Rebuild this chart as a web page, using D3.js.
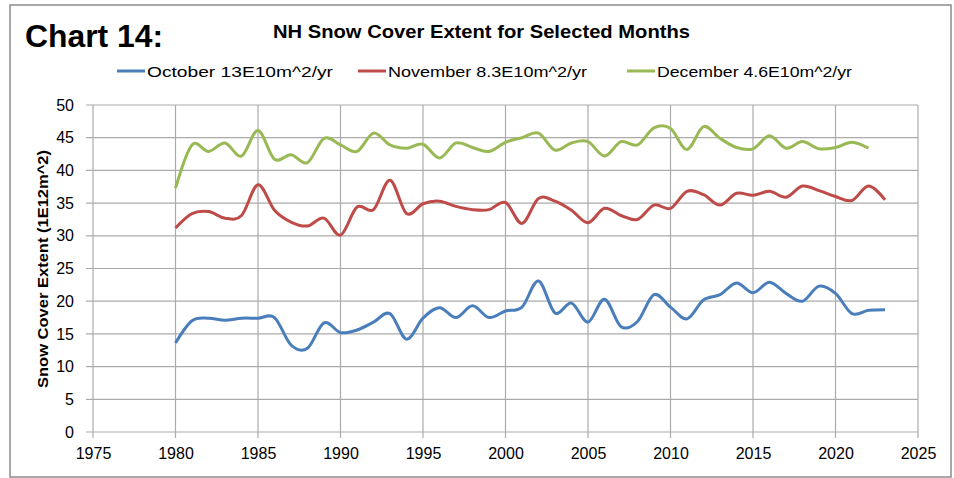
<!DOCTYPE html>
<html>
<head>
<meta charset="utf-8">
<script src="https://cdn.jsdelivr.net/npm/d3@7"></script>
<style>
  body { margin: 0; background: #fff; }
  svg { display: block; font-family: "Liberation Sans", Arial, sans-serif; }
</style>
</head>
<body>
<svg id="chart" width="954" height="478"></svg>
<script>
// years shown on the chart
var years = d3.range(1980, 2024);

// snow cover extent, 1E12 m^2
var october = [13.6, 17.0, 17.4, 17.1, 17.4, 17.4, 17.5, 13.3, 12.8, 16.7,
               15.2, 15.6, 16.8, 18.1, 14.2, 17.4, 19.0, 17.5, 19.3, 17.5,
               18.5, 19.1, 23.1, 18.2, 19.7, 16.8, 20.3, 16.1, 16.9, 21.0,
               19.1, 17.3, 20.2, 21.0, 22.8, 21.3, 22.9, 21.2, 20.0, 22.3,
               21.2, 18.1, 18.6, 18.7];
var november = [31.2, 33.4, 33.7, 32.7, 33.1, 37.8, 33.9, 32.1, 31.5, 32.7,
                30.1, 34.4, 34.0, 38.5, 33.4, 34.9, 35.3, 34.5, 34.0, 34.0,
                35.1, 31.9, 35.7, 35.3, 33.9, 32.0, 34.2, 33.1, 32.5, 34.7,
                34.2, 36.8, 36.3, 34.7, 36.5, 36.2, 36.8, 35.9, 37.6, 36.9,
                36.0, 35.4, 37.6, 35.5];
var december = [37.3, 43.9, 42.9, 44.2, 42.2, 46.1, 41.7, 42.4, 41.2, 44.9,
                43.9, 42.9, 45.7, 43.9, 43.4, 44.0, 41.9, 44.2, 43.5, 42.9,
                44.3, 45.0, 45.7, 43.1, 44.2, 44.4, 42.2, 44.4, 43.9, 46.5,
                46.4, 43.2, 46.7, 44.9, 43.5, 43.3, 45.3, 43.4, 44.4, 43.3,
                43.5, 44.3, 43.4];

var seriesNames = ["October 13E10m^2/yr", "November 8.3E10m^2/yr", "December 4.6E10m^2/yr"];
var seriesColors = ["#4a7ebb", "#be4b48", "#98b954"];
var seriesValues = [october, november, december];

var xTicks = d3.range(1975, 2026, 5);
var yTicks = d3.range(0, 51, 5);

var svg = d3.select("#chart");
var plotLeft = 93, plotRight = 918, plotTop = 105, plotBottom = 432;

var x = d3.scaleLinear().domain([1975, 2025]).range([plotLeft, plotRight]);
var y = d3.scaleLinear().domain([0, 50]).range([plotBottom, plotTop]);

//outer frame
svg.append("rect")
    .attr("x", 10).attr("y", 5)
    .attr("width", 941).attr("height", 472)
    .attr("fill", "#fff")
    .attr("stroke", "#8c8c8c")
    .attr("stroke-width", 1.5);

svg.append("text")
    .attr("x", 25).attr("y", 47)
    .attr("font-size", 31).attr("font-weight", "bold")
    .attr("textLength", 138).attr("lengthAdjust", "spacingAndGlyphs")
    .text("Chart 14:");

svg.append("text")
    .attr("x", 273).attr("y", 38)
    .attr("font-size", 18).attr("font-weight", "bold")
    .attr("textLength", 417).attr("lengthAdjust", "spacingAndGlyphs")
    .text("NH Snow Cover Extent for Selected Months");

//legend
var legendX = [117, 358, 627];
var legendW = [186, 199, 195];
var legend = svg.append("g");
for (var i = 0; i < seriesNames.length; i++) {
    legend.append("line")
        .attr("x1", legendX[i]).attr("x2", legendX[i] + 28)
        .attr("y1", 71).attr("y2", 71)
        .attr("stroke", seriesColors[i]).attr("stroke-width", 3);
    legend.append("text")
        .attr("x", legendX[i] + 30).attr("y", 77)
        .attr("font-size", 15)
        .attr("textLength", legendW[i]).attr("lengthAdjust", "spacingAndGlyphs")
        .text(seriesNames[i]);
}

//grid
var grid = svg.append("g").attr("stroke", "#ababab").attr("stroke-width", 1.2);
xTicks.forEach(function(t) {
    grid.append("line")
        .attr("x1", x(t)).attr("x2", x(t))
        .attr("y1", plotTop).attr("y2", plotBottom + 6);
});
yTicks.forEach(function(t) {
    grid.append("line")
        .attr("x1", plotLeft - 7).attr("x2", plotRight)
        .attr("y1", y(t)).attr("y2", y(t));
});

//axis labels
var yAxis = d3.axisLeft(y).tickValues(yTicks).tickSize(0).tickPadding(19);
svg.append("g")
    .attr("transform", "translate(" + plotLeft + ",0)")
    .call(yAxis)
    .call(function(g) { g.select(".domain").remove(); })
    .selectAll("text")
    .attr("font-family", "Liberation Sans, Arial, sans-serif")
    .attr("font-size", 16).attr("fill", "#000");

var xAxis = d3.axisBottom(x).tickValues(xTicks).tickSize(0).tickPadding(16).tickFormat(d3.format("d"));
svg.append("g")
    .attr("transform", "translate(0," + plotBottom + ")")
    .call(xAxis)
    .call(function(g) { g.select(".domain").remove(); })
    .selectAll("text")
    .attr("font-family", "Liberation Sans, Arial, sans-serif")
    .attr("font-size", 16).attr("fill", "#000");

svg.append("text")
    .attr("transform", "translate(48,269) rotate(-90)")
    .attr("text-anchor", "middle")
    .attr("font-size", 15).attr("font-weight", "bold")
    .attr("textLength", 238).attr("lengthAdjust", "spacingAndGlyphs")
    .text("Snow Cover Extent (1E12m^2)");

//series
var line = d3.line()
    .x(function(d) { return x(d[0]); })
    .y(function(d) { return y(d[1]); })
    .curve(d3.curveCardinal.tension(0));

for (var s = 0; s < seriesValues.length; s++) {
    var pts = seriesValues[s].map(function(v, k) { return [years[k], v]; });
    svg.append("path")
        .datum(pts)
        .attr("fill", "none")
        .attr("stroke", seriesColors[s])
        .attr("stroke-width", 3)
        .attr("stroke-linejoin", "round")
        .attr("d", line);
}
</script>
</body>
</html>
